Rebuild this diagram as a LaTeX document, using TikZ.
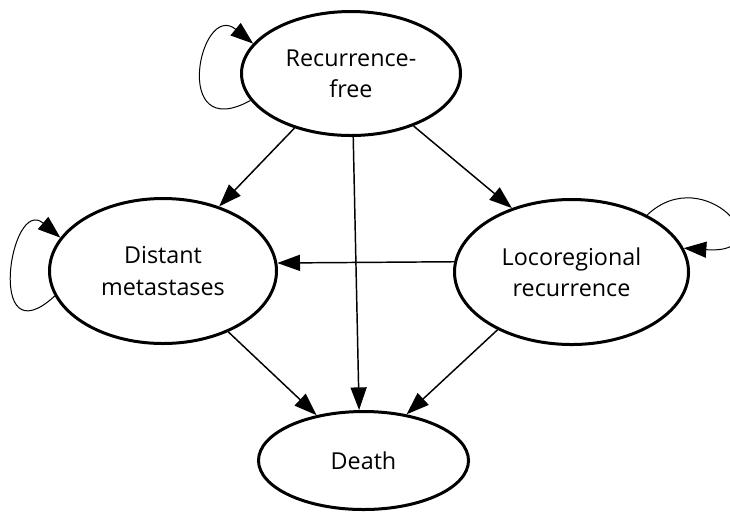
\documentclass[tikz,border=0pt]{standalone}
\usepackage{fontspec}
\setmainfont{Open Sans}
\usetikzlibrary{shapes.geometric,arrows.meta}
\begin{document}
\begin{tikzpicture}[x=0.75pt,y=0.75pt]

    \tikzstyle{state}=[ellipse,draw,line width=2.25pt,inner sep=0pt,align=center,font=\fontsize{17.5}{23.5}\selectfont]
    \tikzstyle{trans}=[-{Triangle[length=17pt,width=12pt]},line width=1.1pt]
    \tikzstyle{selfloop}=[-{Triangle[length=17pt,width=12pt]},line width=0.75pt]

    \useasboundingbox (0,0) rectangle (730,-512);

    \node[state,minimum width=164.25pt,minimum height=93pt] (RecFree) at (351,-73.5) {Recurrence-\\free};
    \node[state,minimum width=170.25pt,minimum height=108.75pt] (Distant) at (163,-271) {Distant\\metastases};
    \node[state,minimum width=175.5pt,minimum height=108.75pt] (Loco) at (571.5,-272) {Locoregional\\recurrence};
    \node[state,minimum width=157.5pt,minimum height=73.5pt] (Death) at (363.5,-460.5) {Death};

    \draw[trans] (RecFree.224) -- (Distant.49);
    \draw[trans] (RecFree.272) -- (Death.95);
    \draw[trans] (RecFree.320) -- (Loco.133);
    \draw[trans] (Loco.175) -- (Distant.4);
    \draw[trans] (Distant.317) -- (Death.136);
    \draw[trans] (Loco.218) -- (Death.47);

    % self transitions
    \draw[selfloop] (RecFree.195) .. controls (170,-145) and (200,0) .. (RecFree.163);
    \draw[selfloop] (Distant.193) .. controls (-15,-360) and (10,-195) .. (Distant.162);
    \draw[selfloop] (Loco.37) .. controls (705,-160) and (785,-255) .. (Loco.12);

\end{tikzpicture}
\end{document}
